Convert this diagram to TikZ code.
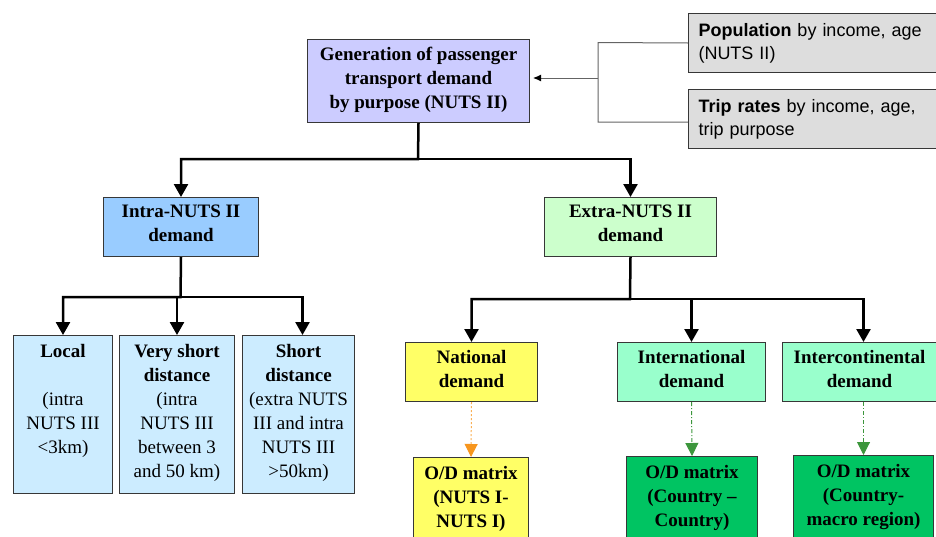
\documentclass[tikz,border=0pt]{standalone}
\usepackage{fontspec}
\setmainfont{LiberationSerif}[Extension=.ttf, UprightFont=*-Regular, BoldFont=*-Bold,
  ItalicFont=*-Italic, BoldItalicFont=*-BoldItalic]
\newfontfamily\labelsans{Liberation Sans}
\usetikzlibrary{arrows.meta}

\definecolor{genfill}{RGB}{204,204,255}
\definecolor{intrafill}{RGB}{153,204,255}
\definecolor{distfill}{RGB}{204,236,255}
\definecolor{extrafill}{RGB}{204,255,204}
\definecolor{natfill}{RGB}{255,255,102}
\definecolor{intlfill}{RGB}{153,255,204}
\definecolor{odgreen}{RGB}{0,196,98}
\definecolor{inputfill}{RGB}{221,221,221}
\definecolor{boxline}{RGB}{55,55,55}
\definecolor{feedline}{RGB}{100,100,100}
\definecolor{natarrow}{RGB}{247,150,30}
\definecolor{intlarrow}{RGB}{60,150,60}

\begin{document}
\begin{tikzpicture}[x=1pt,y=-1pt,
  box/.style={draw=boxline, line width=1pt, inner sep=0pt, anchor=north west,
    align=center, font=\rmfamily\fontsize{19}{24}\selectfont,
    execute at begin node=\strut, execute at end node=\strut},
  boldbox/.style={box, font=\rmfamily\fontsize{19}{24}\selectfont\bfseries},
  inputbox/.style={draw=boxline, line width=1pt, fill=inputfill, anchor=north west,
    minimum height=59pt, text width=240pt, align=left, inner xsep=10pt, inner ysep=0pt,
    font=\labelsans\fontsize{18}{23}\selectfont,
    execute at begin node=\strut, execute at end node=\strut},
  feed/.style={draw=feedline, line width=1pt},
  treearrow/.style={line width=2.5pt, -{Triangle[width=14pt,length=13pt]}},
  natdash/.style={draw=natarrow!75, line width=1pt, dash pattern=on 2pt off 2pt,
    -{Triangle[width=13pt,length=13pt,natarrow]}},
  intldash/.style={draw=intlarrow, line width=1pt, dash pattern=on 4pt off 2pt on 1pt off 2pt,
    -{Triangle[width=13pt,length=13pt,intlarrow]}}
]
\useasboundingbox (0,0) rectangle (936,536);

% top level
\node[boldbox, fill=genfill, minimum width=222pt, minimum height=83pt] (gen) at (307,39)
  {Generation of passenger\\transport demand\\by purpose (NUTS II)};

% inputs
\node[inputbox] (pop) at (688,13) {\textbf{Population} by income, age\\(NUTS II)};
\node[inputbox] (trip) at (688,89) {\textbf{Trip rates} by income, age,\\trip purpose};

\coordinate (pj) at (598,42.5);
\coordinate (tj) at (598,122);
\coordinate (mj) at (598,78);
\coordinate (gtip) at (533,78);
\draw[feed] (pop.west) -- (pj) -- (tj) -- (trip.west |- tj);
\draw[feed, -{Latex[black,length=8pt,width=7pt]}] (mj) -- (gtip);

% second level
\node[boldbox, fill=intrafill, minimum width=155pt, minimum height=59pt] (intra) at (103,197)
  {Intra-NUTS II\\demand};
\node[boldbox, fill=extrafill, minimum width=172pt, minimum height=59pt] (extra) at (544,197)
  {Extra-NUTS II\\demand};

\coordinate (tbus) at (418,159);
\draw[treearrow] (gen.south) -- (tbus) -| (intra.north);
\draw[treearrow] (tbus) -| (extra.north);

% intra-NUTS II branches
\node[box, fill=distfill, minimum width=99pt, minimum height=158pt] (local) at (13,335)
  {\textbf{Local}\\\mbox{}\\(intra\\NUTS III\\<3km)\\\mbox{}};
\node[box, fill=distfill, minimum width=115pt, minimum height=158pt] (vshort) at (119,335)
  {\textbf{Very short}\\\textbf{distance}\\(intra\\NUTS III\\between 3\\and 50 km)};
\node[box, fill=distfill, minimum width=112pt, minimum height=158pt] (short) at (242,335)
  {\textbf{Short}\\\textbf{distance}\\(extra NUTS\\III and intra\\NUTS III\\>50km)};

\coordinate (ibus) at (180.5,297);
\draw[treearrow] (intra.south) -- (ibus) -| (local.north);
\draw[treearrow] (ibus) -| (vshort.north);
\draw[treearrow] (ibus) -| ([xshift=4pt]short.north);

% extra-NUTS II branches
\node[boldbox, fill=natfill, minimum width=132pt, minimum height=59pt] (national) at (405,342)
  {National\\demand};
\node[boldbox, fill=intlfill, minimum width=148pt, minimum height=59pt] (intl) at (617,342)
  {International\\demand};
\node[boldbox, fill=intlfill, minimum width=154pt, minimum height=59pt] (icont) at (782,342)
  {Intercontinental\\demand};

% O/D matrices
\node[boldbox, fill=natfill, minimum width=115pt, minimum height=86pt] (odn) at (413,457)
  {O/D matrix\\(NUTS I-\\NUTS I)};
\node[boldbox, fill=odgreen, minimum width=131pt, minimum height=86pt] (odi) at (626,456)
  {O/D matrix\\(Country --\\Country)};
\node[boldbox, fill=odgreen, minimum width=140pt, minimum height=86pt] (odc) at (793,455)
  {O/D matrix\\(Country-\\macro region)};

\coordinate (ebus) at (630,299);
\draw[treearrow] (extra.south) -- (ebus) -| (national.north);
\draw[treearrow] (ebus) -| (intl.north);
\draw[treearrow] (ebus) -| (odc.north |- icont.north);

\draw[natdash] (national.south) -- (odn.north);
\draw[intldash] (intl.south) -- (odi.north);
\draw[intldash] (odc.north |- icont.south) -- (odc.north);
\end{tikzpicture}
\end{document}
